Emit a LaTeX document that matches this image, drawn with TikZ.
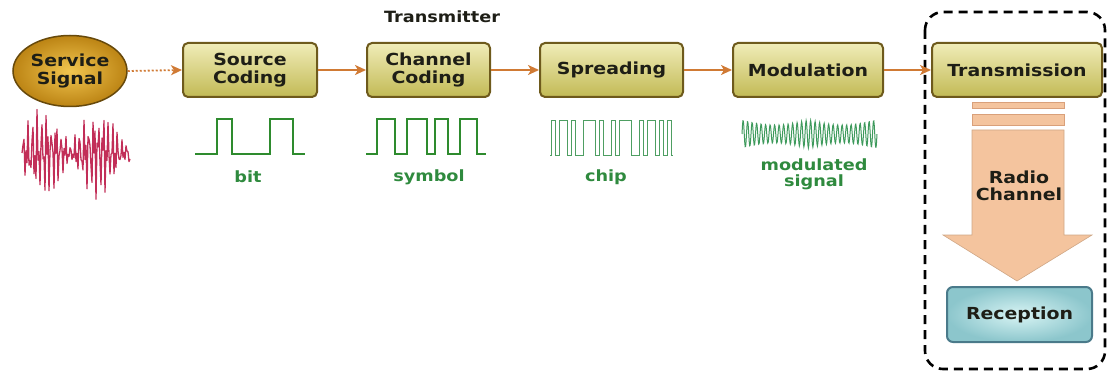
\documentclass[tikz,border=0pt]{standalone}
\usepackage{fontspec}
\setmainfont{DejaVu Sans}[FakeStretch=1.14]
\usetikzlibrary{arrows.meta,shapes.geometric}
\definecolor{boxtop}{HTML}{F0ECB8}
\definecolor{boxbot}{HTML}{C2BA55}
\definecolor{boxborder}{HTML}{6E5A1C}
\definecolor{txt}{HTML}{1E1E16}
\definecolor{arr}{HTML}{D07A34}
\definecolor{wgreen}{HTML}{2E8B2E}
\definecolor{lgreen}{HTML}{2F8A3E}
\definecolor{cgreen}{HTML}{4E9E62}
\definecolor{mgreen}{HTML}{3E9A5C}
\definecolor{noise}{HTML}{C22E58}
\definecolor{peach}{HTML}{F4C49E}
\definecolor{peachdark}{HTML}{D9A07A}
\definecolor{goldin}{HTML}{F2C650}
\definecolor{goldout}{HTML}{BC8414}
\definecolor{cyanin}{HTML}{D8F4F4}
\definecolor{cyanout}{HTML}{8CC6CC}
\definecolor{cyanborder}{HTML}{4A7A8A}
\begin{document}
\begin{tikzpicture}[x=1pt,y=-1pt,
  blk/.style={draw=boxborder, line width=2pt, rounded corners=5pt,
    top color=boxtop, bottom color=boxbot, minimum height=54pt,
    align=center, font=\bfseries\fontsize{16.6}{17.5}\selectfont, text=txt, inner sep=0pt},
  flow/.style={draw=arr, line width=1.8pt, -{Stealth[length=11pt,width=10pt,inset=3pt]}},
  lbl/.style={font=\bfseries\fontsize{15.5}{16}\selectfont, text=lgreen, align=center, inner sep=0pt},
  sqwave/.style={draw=wgreen, line width=2.2pt},
]
\useasboundingbox (0,0) rectangle (1108,374);

% title
\node[font=\bfseries\fontsize{15.5}{16}\selectfont, text=txt] (title) at (442,17) {Transmitter};

% dashed receiver frame
\draw[line width=2.6pt, dash pattern=on 9pt off 6pt, rounded corners=18pt] (925,12) rectangle (1105,369);

% service signal
\node[ellipse, draw=goldout!55!black, line width=1.5pt, inner color=goldin, outer color=goldout,
  minimum width=114pt, minimum height=71pt, align=center,
  font=\bfseries\fontsize{16.6}{17.5}\selectfont, text=txt, inner sep=0pt] (svc) at (70,71) {Service\\Signal};

% blocks
\node[blk, minimum width=134pt] (src) at (250,70) {Source\\Coding};
\node[blk, minimum width=123pt] (chc) at (428.5,70) {Channel\\Coding};
\node[blk, minimum width=143pt] (spr) at (611.5,70) {Spreading};
\node[blk, minimum width=150pt] (mod) at (808,70) {Modulation};
\node[blk, minimum width=170pt] (trx) at (1017,70) {Transmission};

% connectors
\draw[draw=arr, line width=1.8pt, dash pattern=on 2pt off 2pt, -{Stealth[length=11pt,width=10pt,inset=3pt]}] (svc.east) -- (src.west);
\draw[flow] (src) -- (chc);
\draw[flow] (chc) -- (spr);
\draw[flow] (spr) -- (mod);
\draw[flow] (mod) -- (trx);

% radio channel
\draw[fill=peach, draw=peachdark, line width=0.8pt] (972,102) rectangle (1064,108);
\draw[fill=peach, draw=peachdark, line width=0.8pt] (972,114) rectangle (1064,125);
\draw[fill=peach, draw=peach!85!black, line width=0.6pt]
  (972,130) -- (1064,130) -- (1064,235) -- (1092,235) -- (1017,281) -- (943,235) -- (972,235) -- cycle;
\node[font=\bfseries\fontsize{16.6}{17.5}\selectfont, text=txt, align=center] (radio) at (1019,186) {Radio\\Channel};

% reception
\node[draw=cyanborder, line width=2pt, rounded corners=6pt, inner color=cyanin, outer color=cyanout,
  minimum width=145pt, minimum height=55pt, font=\bfseries\fontsize{16.6}{17.5}\selectfont, text=txt, inner sep=0pt]
  (rec) at (1019.5,314.5) {Reception};

% service signal waveform
\draw[noise, line width=1.3pt, line join=round]
  plot[domain=0:108, samples=109] ({\x+22}, {153 - (8+40*abs(sin(\x*3.3+20)))*sin(\x*137.5)*cos(\x*61)});

% bit
\draw[sqwave] (195,154) -- (217,154) -- (217,119) -- (232,119) -- (232,154) -- (270,154) -- (270,119) -- (293,119) -- (293,154) -- (305,154);
\node[lbl] (bitl) at (248,177) {bit};

% symbol
\draw[sqwave] (366,154) -- (377,154) -- (377,119) -- (395,119) -- (395,154) -- (407,154) -- (407,119) -- (427,119) -- (427,154)
  -- (435,154) -- (435,119) -- (448,119) -- (448,154) -- (460,154) -- (460,119) -- (477,119) -- (477,154) -- (486,154);
\node[lbl] (syml) at (429,177) {symbol};

% chip
\draw[cgreen, line width=0.8pt] (550,155)
  \foreach \s/\w in {551/4,559/8,571/4,583/12,599/4,611/4,619/12,639/4,647/8,659/4,667/4}
    { -- (\s,155) -- (\s,120) -- ({\s+\w},120) -- ({\s+\w},155) } -- (673,155);
\node[lbl] (chipl) at (606,177) {chip};

% modulated signal
\draw[mgreen, line width=1pt]
  plot[domain=0:135, samples=300] ({\x+742}, {134 - (14 - 5*abs(sin(\x*2.7)))*sin(\x*80)});
\node[lbl] (modl) at (814,174) {modulated\\signal};
\end{tikzpicture}
\end{document}
